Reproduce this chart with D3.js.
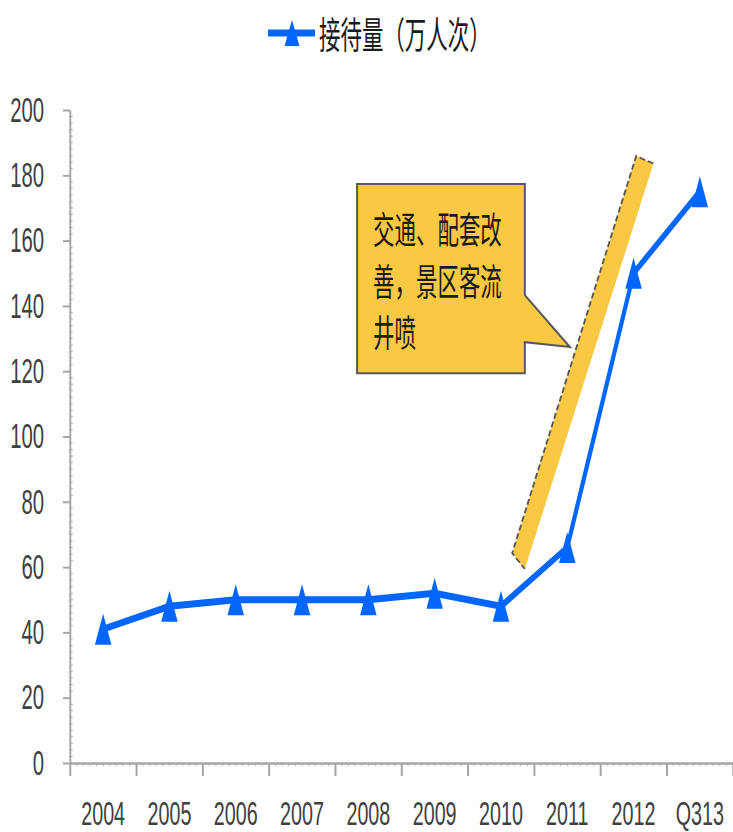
<!DOCTYPE html>
<html>
<head>
<meta charset="utf-8">
<script src="https://cdn.jsdelivr.net/npm/d3@7"></script>
<style>
  html, body { margin: 0; background: #fff; }
  svg { display: block; }
</style>
</head>
<body>
<svg id="chart" width="733" height="832"></svg>
<script>
// Visitor numbers per year (万人次)
const categories = ["2004", "2005", "2006", "2007", "2008", "2009", "2010", "2011", "2012", "Q313"];
const visitors = [41, 48, 50, 50, 50, 52, 48, 66, 150, 175];
const yTickValues = [0, 20, 40, 60, 80, 100, 120, 140, 160, 180, 200];
const legendLabel = "接待量（万人次）";
const noteLines = ["交通、配套改", "善，景区客流", "井喷"];

const W = 733, H = 832;
const SX = 0.58;                 // horizontal condensing of the whole drawing
const px = v => v / SX;          // screen x -> inner x
const AXIS = "#a6a6a6";
const BLUE = "#0066FF";
const GOLD = "#F9C944";

const svg = d3.select("#chart");
svg.append("rect").attr("width", W).attr("height", H).attr("fill", "#fff");
const g = svg.append("g").attr("transform", `scale(${SX},1)`);

const plot = { left: px(70), right: px(733), top: 110, bottom: 763 };
const x = d3.scaleBand().domain(categories).range([plot.left, plot.right]);
const xPos = d3.scaleLinear().domain([0, categories.length]).range([plot.left, plot.right]);
const y = d3.scaleLinear().domain([0, 200]).range([plot.bottom, plot.top]);

// minor ticks on the value axis (inside)
g.append("g").selectAll("line")
  .data(d3.range(0, 201, 2).filter(v => v % 20 !== 0))
  .join("line")
  .attr("x1", plot.left).attr("x2", plot.left + px(3))
  .attr("y1", d => y(d)).attr("y2", d => y(d))
  .attr("stroke", "#b3b3b3").attr("stroke-width", 1)
  .attr("vector-effect", "non-scaling-stroke");

// minor ticks on the category axis (below)
g.append("g").selectAll("line")
  .data(d3.range(0, categories.length * 10).filter(i => i % 10 !== 0).map(i => i / 10))
  .join("line")
  .attr("x1", d => xPos(d)).attr("x2", d => xPos(d))
  .attr("y1", plot.bottom).attr("y2", plot.bottom + 3)
  .attr("stroke", "#b3b3b3").attr("stroke-width", 1)
  .attr("vector-effect", "non-scaling-stroke");

// value axis
const yAxis = g.append("g")
  .attr("transform", `translate(${plot.left},0)`)
  .call(d3.axisLeft(y).tickValues(yTickValues).tickSize(px(7)).tickSizeOuter(0).tickPadding(px(19)));
yAxis.select(".domain").attr("stroke", AXIS).attr("stroke-width", 2).attr("vector-effect", "non-scaling-stroke");
yAxis.selectAll(".tick line").attr("stroke", AXIS).attr("stroke-width", 2).attr("vector-effect", "non-scaling-stroke");
yAxis.selectAll(".tick text")
  .attr("font-family", "'Liberation Sans', Arial, sans-serif")
  .attr("font-size", 35).attr("fill", "#404040");

// category axis: line and boundary ticks
const xAxis = g.append("g")
  .attr("transform", `translate(0,${plot.bottom})`)
  .call(d3.axisBottom(xPos).tickValues(d3.range(0, categories.length + 1)).tickFormat("").tickSize(13).tickSizeOuter(0));
xAxis.select(".domain").attr("stroke", AXIS).attr("stroke-width", 2.5).attr("vector-effect", "non-scaling-stroke");
xAxis.selectAll(".tick line").attr("stroke", AXIS).attr("stroke-width", 2).attr("vector-effect", "non-scaling-stroke");

// category labels
const xLabels = g.append("g")
  .attr("transform", `translate(0,${plot.bottom})`)
  .call(d3.axisBottom(x).tickSize(0).tickPadding(38));
xLabels.select(".domain").remove();
xLabels.selectAll(".tick text")
  .attr("font-family", "'Liberation Sans', Arial, sans-serif")
  .attr("font-size", 34).attr("fill", "#404040");

// annotation: callout box and slanted band (category-index, value units)
const calloutBox = { u0: 4.33, u1: 6.86, vTop: 177.3, vBottom: 119.4 };
const calloutPointer = { vStart: 143.3, tip: [7.54, 127.4], vEnd: 128.9 };
const bandCorners = [[8.80, 183.6], [8.54, 185.9], [6.67, 64.3], [6.86, 59.4]];

const P = ([u, v]) => [xPos(u), y(v)];
const cb = calloutBox, cp = calloutPointer;
const calloutPts = [
  [cb.u0, cb.vTop], [cb.u1, cb.vTop], [cb.u1, cp.vStart], cp.tip,
  [cb.u1, cp.vEnd], [cb.u1, cb.vBottom], [cb.u0, cb.vBottom]
].map(P);
g.append("path")
  .attr("d", "M" + calloutPts.map(p => p.join(",")).join("L") + "Z")
  .attr("fill", GOLD).attr("stroke", "#595959").attr("stroke-width", 2)
  .attr("stroke-linejoin", "miter")
  .attr("vector-effect", "non-scaling-stroke");

const noteX = xPos(cb.u0) + px(16);
g.append("g").selectAll("text")
  .data(noteLines)
  .join("text")
  .attr("x", noteX)
  .attr("y", (d, i) => y(cb.vTop) + 60 + i * 51.5)
  .attr("font-family", "'Noto Sans CJK SC', sans-serif")
  .attr("font-size", 37).attr("fill", "#1a1a1a")
  .text(d => d);

const bandPts = bandCorners.map(P);
g.append("path")
  .attr("d", "M" + bandPts.map(p => p.join(",")).join("L") + "Z")
  .attr("fill", GOLD);
g.append("path")
  .attr("d", "M" + bandPts.map(p => p.join(",")).join("L"))
  .attr("fill", "none").attr("stroke", "#555").attr("stroke-width", 1.8)
  .attr("stroke-dasharray", "6,3")
  .attr("vector-effect", "non-scaling-stroke");

// series line and triangle markers
const data = categories.map((c, i) => ({ cat: c, v: visitors[i] }));
const cx = d => x(d.cat) + x.bandwidth() / 2;
const tri = (w, h) => `M0,${-h / 2}L${w / 2},${h / 2}L${-w / 2},${h / 2}Z`;

g.append("path")
  .datum(data)
  .attr("d", d3.line().x(cx).y(d => y(d.v)))
  .attr("fill", "none").attr("stroke", BLUE).attr("stroke-width", 7)
  .attr("stroke-linejoin", "round");

g.append("g").selectAll("path")
  .data(data)
  .join("path")
  .attr("transform", d => `translate(${cx(d)},${y(d.v)})`)
  .attr("d", tri(px(16.5), 31))
  .attr("fill", BLUE);

// legend
const legend = g.append("g");
legend.append("line")
  .attr("x1", px(268)).attr("x2", px(315)).attr("y1", 33).attr("y2", 33)
  .attr("stroke", BLUE).attr("stroke-width", 7);
legend.append("path")
  .attr("transform", `translate(${px(292)},33)`)
  .attr("d", tri(px(15), 26))
  .attr("fill", BLUE);
legend.append("text")
  .attr("x", px(319)).attr("y", 49)
  .attr("font-family", "'Noto Sans CJK SC', sans-serif")
  .attr("font-size", 37).attr("fill", "#1a1a1a")
  .text(legendLabel);
</script>
</body>
</html>
